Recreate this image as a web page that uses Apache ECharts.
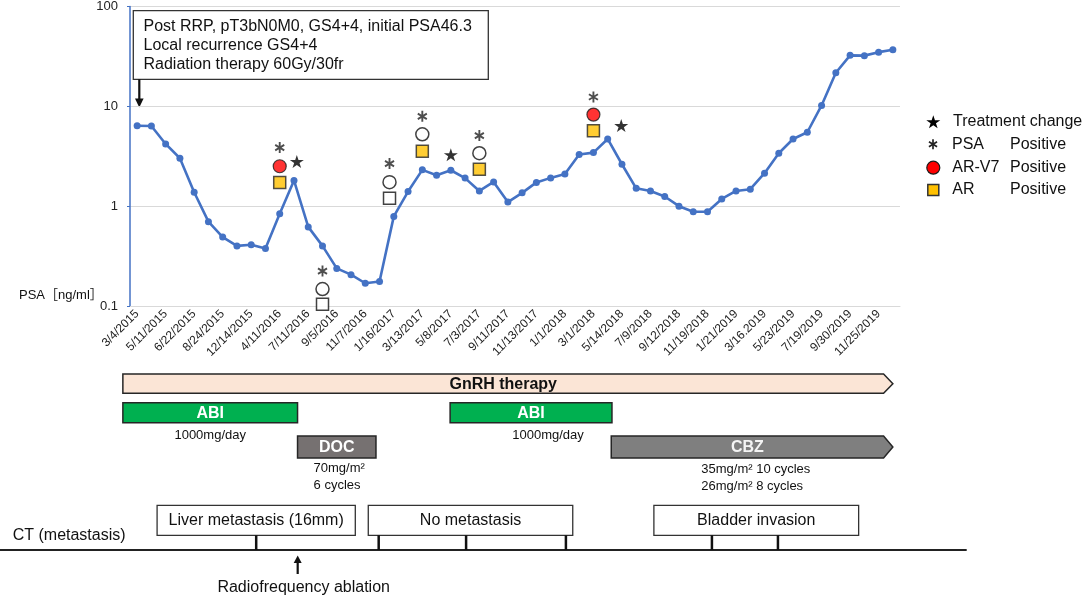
<!DOCTYPE html>
<html>
<head>
<meta charset="utf-8">
<script src="https://cdn.jsdelivr.net/npm/echarts@6/dist/echarts.min.js"></script>
<style>
html, body { margin: 0; padding: 0; background: #fff; }
#main { width: 1084px; height: 597px; }
</style>
</head>
<body>
<div id="main"></div>
<script>
var FONT = '"Liberation Sans", Arial, "Noto Sans CJK JP", sans-serif';

// dates of visits (only every other visit is labelled on the axis)
var tickLabels = ['3/4/2015', '5/11/2015', '6/22/2015', '8/24/2015', '12/14/2015', '4/11/2016',
    '7/11/2016', '9/5/2016', '11/7/2016', '1/16/2017', '3/13/2017', '5/8/2017', '7/3/2017',
    '9/11/2017', '11/13/2017', '1/1/2018', '3/1/2018', '5/14/2018', '7/9/2018', '9/12/2018',
    '11/19/2018', '1/21/2019', '3/16.2019', '5/23/2019', '7/19/2019', '9/30/2019', '11/25/2019'];

// PSA ng/ml at each visit
var psaValues = [6.4, 6.35, 4.2, 3.02, 1.38, 0.70, 0.49, 0.40, 0.41, 0.377,
    0.84, 1.81, 0.62, 0.40, 0.238, 0.206, 0.169, 0.176, 0.79, 1.40,
    2.31, 2.04, 2.29, 1.91, 1.42, 1.75, 1.10, 1.36, 1.73, 1.92,
    2.10, 3.29, 3.44, 4.71, 2.63, 1.51, 1.42, 1.25, 1.0, 0.88,
    0.88, 1.18, 1.42, 1.48, 2.14, 3.39, 4.71, 5.5, 10.2, 21.7,
    32.4, 32.2, 34.9, 36.9];

// annotation markers: visit index and height on the PSA scale
var psaPosIdx = [10, 13, 17.7, 20, 24, 32];
var psaPosVal = [3.86, 0.224, 2.67, 7.94, 5.09, 12.4];
var arV7PosIdx = [10, 32];
var arV7PosVal = [2.51, 8.26];
var arV7NegIdx = [13, 17.7, 20, 24];
var arV7NegVal = [0.148, 1.74, 5.25, 3.39];
var arPosIdx = [10, 20, 24, 32];
var arPosVal = [1.73, 3.55, 2.34, 5.71];
var arNegIdx = [13, 17.7];
var arNegVal = [0.104, 1.20];
var changeIdx = [11.2, 22, 33.95];
var changeVal = [2.80, 3.27, 6.41];

// treatments (start / end as visit index)
var therapyNames = ['GnRH therapy', 'ABI', 'DOC', 'ABI', 'CBZ'];
var therapyStart = [-1, -1, 11.25, 21.95, 33.25];
var therapyEnd = [53, 11.25, 16.75, 33.3, 53];
var therapyRow = [0, 1, 2, 1, 2];
var therapyOngoing = [true, false, false, false, true];
var therapyDose = ['', '1000mg/day', '70mg/m²\n6 cycles', '1000mg/day', '35mg/m² 10 cycles\n26mg/m² 8 cycles'];

// CT findings
var ctFindings = ['Liver metastasis (16mm)', 'No metastasis', 'Bladder invasion'];
var ctFindStart = [1.4, 16.21, 36.24];
var ctFindEnd = [15.3, 30.55, 50.6];
var ctExamIdx = [8.35, 16.94, 23.07, 30.07, 40.31, 44.94];
var rfaIdx = [11.26];

var categories = [];
for (var k = 0; k < psaValues.length; k++) {
    categories.push(k % 2 === 0 ? tickLabels[k / 2] : '');
}

function zip(a, b) {
    var res = [];
    for (var i = 0; i < a.length; i++) res.push([a[i], b[i]]);
    return res;
}

var STAR = 'M50 0 L61.23 34.55 L97.55 34.55 L68.16 55.9 L79.39 90.45 L50 69.1 L20.61 90.45 L31.84 55.9 L2.45 34.55 L38.77 34.55 Z';
var ASTERISK = 'M41 0 L59 0 L59 100 L41 100 Z M2.2 32.8 L11.2 17.2 L97.8 67.2 L88.8 82.8 Z M11.2 82.8 L2.2 67.2 L88.8 17.2 L97.8 32.8 Z';

// polygons for the legend glyphs, taken from the same outlines
function pathPolys(d, x, y, w, h, bx0, by0, bw, bh) {
    var polys = [];
    d.split('Z').forEach(function (part) {
        var nums = part.replace(/[ML]/g, ' ').trim().split(/\s+/).map(Number);
        if (nums.length < 6) return;
        var pts = [];
        for (var i = 0; i < nums.length; i += 2) {
            pts.push([x + (nums[i] - bx0) / bw * w, y + (nums[i + 1] - by0) / bh * h]);
        }
        polys.push(pts);
    });
    return polys;
}

var ROW_TOP = [374, 402.7, 436];
var ROW_H = [19.3, 20, 22];
var THERAPY_STYLE = {
    'GnRH therapy': {fill: '#FBE5D6', text: '#111'},
    'ABI': {fill: '#00B050', text: '#fff'},
    'DOC': {fill: '#767171', text: '#fff'},
    'CBZ': {fill: '#7F7F7F', text: '#f4f4f4'}
};
var DOSE_LAYOUT = [null,
    {align: 'center', dx: 0, y: 435.5},
    {align: 'left', dx: 16, y: 477},
    {align: 'center', dx: 17, y: 435.5},
    {align: 'left', dx: 90, y: 478}];

function txt(text, x, y, font, align, fill, extra) {
    var s = {text: text, x: x, y: y, font: font, fill: fill || '#111',
        align: align, textAlign: align, verticalAlign: 'middle', textVerticalAlign: 'middle'};
    if (extra) for (var key in extra) s[key] = extra[key];
    return {type: 'text', style: s};
}

function renderTherapy(params, api) {
    var i = params.dataIndex;
    var x0 = api.coord([api.value(0), 1])[0];
    var x1 = api.coord([api.value(1), 1])[0];
    var top = ROW_TOP[therapyRow[i]], h = ROW_H[therapyRow[i]];
    var st = THERAPY_STYLE[therapyNames[i]];
    var body = therapyOngoing[i] ? x1 - 9.3 : x1;
    var pts = therapyOngoing[i]
        ? [[x0, top], [body, top], [x1, top + h / 2], [body, top + h], [x0, top + h]]
        : [[x0, top], [x1, top], [x1, top + h], [x0, top + h]];
    var children = [
        {type: 'polygon', shape: {points: pts}, style: {fill: st.fill, stroke: '#262626', lineWidth: 1.5}},
        txt(therapyNames[i], (x0 + body) / 2, top + h / 2 + 0.5, 'bold 16px ' + FONT, 'center', st.text)
    ];
    if (therapyDose[i]) {
        var d = DOSE_LAYOUT[i];
        var dx = d.align === 'left' ? x0 + d.dx : (x0 + body) / 2 + d.dx;
        children.push(txt(therapyDose[i], dx, d.y, '13px ' + FONT, d.align, '#111', {lineHeight: 16.5}));
    }
    return {type: 'group', children: children};
}

function renderFinding(params, api) {
    var i = params.dataIndex;
    var x0 = api.coord([api.value(0), 1])[0];
    var x1 = api.coord([api.value(1), 1])[0];
    return {type: 'group', children: [
        {type: 'rect', shape: {x: x0, y: 505.3, width: x1 - x0, height: 30},
            style: {fill: '#fff', stroke: '#333', lineWidth: 1.3}},
        txt(ctFindings[i], (x0 + x1) / 2, 521, '16px ' + FONT, 'center')
    ]};
}

function renderExam(params, api) {
    var x = api.coord([api.value(0), 1])[0];
    return {type: 'line', shape: {x1: x, y1: 535.3, x2: x, y2: 550},
        style: {stroke: '#111', lineWidth: 2.5}};
}

function renderRfa(params, api) {
    var x = api.coord([api.value(0), 1])[0];
    return {type: 'group', children: [
        {type: 'line', shape: {x1: x, y1: 574, x2: x, y2: 562}, style: {stroke: '#111', lineWidth: 2.2}},
        {type: 'polygon', shape: {points: [[x - 4, 563], [x + 4, 563], [x, 555.5]]}, style: {fill: '#111'}},
        txt('Radiofrequency ablation', x + 6, 587.5, '16px ' + FONT, 'center')
    ]};
}

// annotation layers sit on a hidden value axis that spans the same bands
function markSeries(name, data, symbol, size, style) {
    return {
        type: 'scatter', name: name, data: data, symbol: symbol, symbolSize: size,
        xAxisIndex: 1, itemStyle: style, clip: false, z: 4, silent: true
    };
}

function customSeries(name, render, data) {
    return {type: 'custom', name: name, renderItem: render, xAxisIndex: 1,
        silent: true, clip: false, data: data};
}

var legendRows = [121.7, 144.3, 167.7, 190];
var graphics = [
    // history box
    {type: 'rect', shape: {x: 133.3, y: 10.7, width: 355, height: 68.6},
        style: {fill: '#fff', stroke: '#333', lineWidth: 1.3}},
    txt('Post RRP, pT3bN0M0, GS4+4, initial PSA46.3', 143.5, 26.5, '16px ' + FONT, 'left'),
    txt('Local recurrence GS4+4', 143.5, 45.5, '16px ' + FONT, 'left'),
    txt('Radiation therapy 60Gy/30fr', 143.5, 64.5, '16px ' + FONT, 'left'),
    {type: 'line', shape: {x1: 139.3, y1: 79.3, x2: 139.3, y2: 100}, style: {stroke: '#111', lineWidth: 2.2}},
    {type: 'polygon', shape: {points: [[135, 98.5], [143.6, 98.5], [139.3, 107.5]]}, style: {fill: '#111'}},
    txt('PSA［ng/ml］', 19, 295, '13px ' + FONT, 'left'),
    // legend
    {type: 'circle', shape: {cx: 933.3, cy: 167.7, r: 6.5}, style: {fill: '#FF0000', stroke: '#1a1a1a', lineWidth: 1.2}},
    {type: 'rect', shape: {x: 927.8, y: 184.5, width: 11, height: 11}, style: {fill: '#FFC000', stroke: '#333', lineWidth: 1.5}},
    txt('Treatment change', 953, legendRows[0], '16px ' + FONT, 'left'),
    txt('PSA', 952, legendRows[1], '16px ' + FONT, 'left'),
    txt('Positive', 1010, legendRows[1], '16px ' + FONT, 'left'),
    txt('AR-V7', 952.3, legendRows[2], '16px ' + FONT, 'left'),
    txt('Positive', 1010, legendRows[2], '16px ' + FONT, 'left'),
    txt('AR', 952.3, legendRows[3], '16px ' + FONT, 'left'),
    txt('Positive', 1010, legendRows[3], '16px ' + FONT, 'left'),
    // CT row
    txt('CT (metastasis)', 12.7, 536, '16px ' + FONT, 'left'),
    {type: 'line', shape: {x1: 0, y1: 550, x2: 966.7, y2: 550}, style: {stroke: '#222', lineWidth: 2}}
];
pathPolys(STAR, 926.3, 115.2, 14, 13, 2.45, 0, 95.1, 90.45).forEach(function (p) {
    graphics.push({type: 'polygon', shape: {points: p}, style: {fill: '#000'}});
});
pathPolys(ASTERISK, 928.5, 139.3, 9, 10, 2.2, 0, 95.6, 100).forEach(function (p) {
    graphics.push({type: 'polygon', shape: {points: p}, style: {fill: '#222'}});
});

var myChart = echarts.init(document.getElementById('main'));
var option = {
    animation: false,
    grid: {left: 130, right: 184, top: 6, bottom: 291},
    xAxis: [{
        type: 'category',
        data: categories,
        boundaryGap: true,
        axisLine: {show: true, onZero: false, lineStyle: {color: '#d9d9d9'}},
        axisTick: {show: false},
        axisLabel: {interval: 1, rotate: 45, margin: 6, fontSize: 12, color: '#222', fontFamily: FONT}
    }, {
        type: 'value',
        min: -0.5,
        max: psaValues.length - 0.5,
        show: false
    }],
    yAxis: {
        type: 'log',
        logBase: 10,
        min: 0.1,
        max: 100,
        axisLine: {show: true, onZero: false, lineStyle: {color: '#4472C4', width: 1.5}},
        axisTick: {show: true, length: 3, lineStyle: {color: '#4472C4'}},
        splitLine: {lineStyle: {color: '#d9d9d9', width: 1}},
        axisLabel: {fontSize: 13, color: '#222', margin: 12, fontFamily: FONT,
            formatter: function (v) { return String(+Number(v).toPrecision(3)); }}
    },
    graphic: graphics,
    series: [
        {
            type: 'line', name: 'PSA', data: psaValues,
            symbol: 'circle', symbolSize: 7,
            lineStyle: {color: '#4472C4', width: 2.6},
            itemStyle: {color: '#4472C4'},
            z: 3, silent: true
        },
        markSeries('PSA Positive', zip(psaPosIdx, psaPosVal), 'path://' + ASTERISK, [10, 11], {color: '#222'}),
        markSeries('AR-V7 Positive', zip(arV7PosIdx, arV7PosVal), 'circle', 13,
            {color: '#FF0000', borderColor: '#1a1a1a', borderWidth: 1.2}),
        markSeries('AR-V7 Negative', zip(arV7NegIdx, arV7NegVal), 'circle', 13,
            {color: '#fff', borderColor: '#111', borderWidth: 1.5}),
        markSeries('AR Positive', zip(arPosIdx, arPosVal), 'rect', 12,
            {color: '#FFC000', borderColor: '#262626', borderWidth: 1.5}),
        markSeries('AR Negative', zip(arNegIdx, arNegVal), 'rect', 12,
            {color: '#fff', borderColor: '#111', borderWidth: 1.5}),
        markSeries('Treatment change', zip(changeIdx, changeVal), 'path://' + STAR, [14, 13], {color: '#000'}),
        customSeries('therapy', renderTherapy, zip(therapyStart, therapyEnd)),
        customSeries('ct findings', renderFinding, zip(ctFindStart, ctFindEnd)),
        customSeries('ct exams', renderExam, zip(ctExamIdx, ctExamIdx)),
        customSeries('rfa', renderRfa, zip(rfaIdx, rfaIdx))
    ]
};
myChart.setOption(option);
</script>
</body>
</html>
